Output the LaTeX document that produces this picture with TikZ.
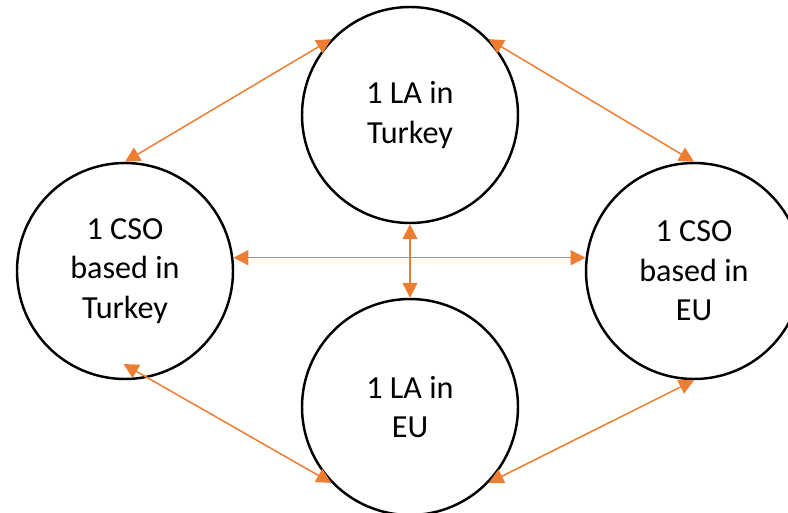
\documentclass[tikz,border=0pt]{standalone}
\usepackage{fontspec}
\setmainfont{Carlito}
\usepackage{xcolor}
\usepackage{tikz}
\usetikzlibrary{arrows.meta,positioning}
\definecolor{linkorange}{RGB}{237,125,49}

\begin{document}
\begin{tikzpicture}[
    partner/.style={circle, draw, line width=1.4pt, minimum size=4.32cm, inner sep=0pt,
        align=center, font=\fontsize{18.3}{22.4}\selectfont},
    link/.style={linkorange, line width=0.85pt,
        {Triangle[length=8.5pt,width=8.5pt]}-{Triangle[length=8.5pt,width=8.5pt]}}
]
    \useasboundingbox (0,0) rectangle (15.76,10.24);

    % Partners
    \node[partner] (la-tr) at (8.2,7.94) {1 LA in\\Turkey};
    \node[partner] (cso-tr) at (2.5,4.82) {1 CSO\\based in\\Turkey};
    \node[partner] (cso-eu) at (13.88,4.82) {1 CSO\\based in\\EU};
    \node[partner] (la-eu) at (8.2,2.1) {1 LA in\\EU};
    \coordinate (cso-tr-in) at (2.47,2.96);

    % Links
    \draw[link] (cso-tr.north) -- (la-tr.136);
    \draw[link] (la-tr.44) -- (cso-eu.north);
    \draw[link] (cso-tr.7) -- (cso-eu.173);
    \draw[link] (la-tr.south) -- (la-eu.north);
    \draw[link] (cso-tr-in) -- (la-eu.224);
    \draw[link] (la-eu.316) -- (cso-eu.south);
\end{tikzpicture}
\end{document}
